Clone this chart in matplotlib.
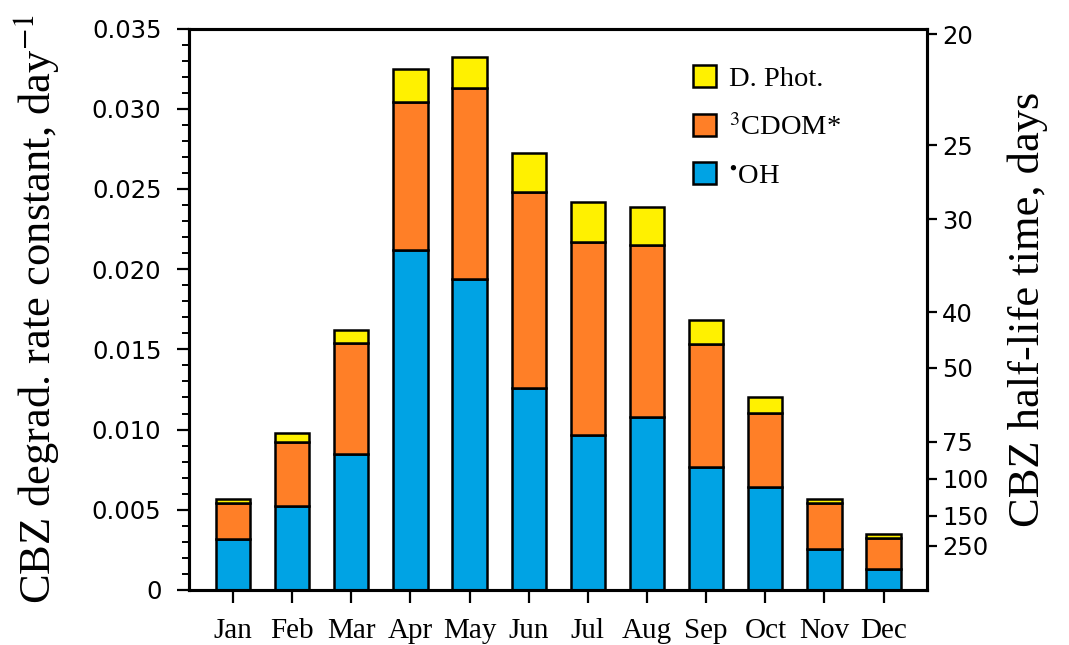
import numpy as np
import matplotlib.pyplot as plt
from matplotlib.patches import Patch
from matplotlib.ticker import MultipleLocator

plt.rcParams['mathtext.fontset'] = 'stix'

meses = ["Jan", "Feb", "Mar", "Apr", "May", "Jun", "Jul", "Aug", "Sep", "Oct", "Nov", "Dec"]

# valores acumulados (day^-1)
k_oh = [0.00316, 0.00522, 0.00847, 0.02119, 0.01938, 0.01258, 0.00965, 0.01081, 0.00769, 0.00643, 0.00258, 0.00133]
k_cdom_top = [0.00541, 0.00921, 0.01537, 0.03043, 0.03132, 0.02483, 0.02169, 0.02148, 0.01535, 0.01102, 0.00541, 0.00326]
k_total = [0.00568, 0.00978, 0.01622, 0.03250, 0.03325, 0.02722, 0.02419, 0.02388, 0.01684, 0.01200, 0.00566, 0.00347]

vida_media = [20, 25, 30, 40, 50, 75, 100, 150, 250]

k_oh = np.array(k_oh)
k_cdom = np.array(k_cdom_top) - k_oh
k_phot = np.array(k_total) - np.array(k_cdom_top)

c_oh = "#00A3E4"
c_cdom = "#FF7F27"
c_phot = "#FFF100"

fig = plt.figure(figsize=(10.69, 6.45), dpi=100)
ax = fig.add_axes([0.177, 0.0853, 0.690, 0.8704])

x = np.arange(1, 13)
w = 0.58
lw = 1.8
ax.bar(x, k_oh, w, color=c_oh, edgecolor="black", linewidth=lw)
ax.bar(x, k_cdom, w, bottom=k_oh, color=c_cdom, edgecolor="black", linewidth=lw)
ax.bar(x, k_phot, w, bottom=k_oh + k_cdom, color=c_phot, edgecolor="black", linewidth=lw)

ax.set_xlim(0.26, 12.73)
ax.set_ylim(0, 0.035)
ax.set_xticks(x)
ax.set_xticklabels(meses, family="Liberation Serif", fontsize=21)
ax.yaxis.set_minor_locator(MultipleLocator(0.001))
ax.set_yticks(np.arange(0, 0.0351, 0.005))
ax.set_yticklabels(["0", "0.005", "0.010", "0.015", "0.020", "0.025", "0.030", "0.035"],
                   family="DejaVu Sans", fontsize=17.5)
ax.tick_params(axis="y", which="major", direction="out", length=9, width=1.6, pad=11)
ax.tick_params(axis="y", which="minor", direction="out", length=5, width=1.4)
ax.tick_params(axis="x", direction="out", length=9, width=1.6, pad=11)
for s in ax.spines.values():
    s.set_linewidth(2.2)

ax.set_ylabel("CBZ degrad. rate constant, day$^{-1}$", family="Liberation Serif", fontsize=32, labelpad=22)

# eje derecho: t1/2 = ln2 / k
ax2 = ax.twinx()
ax2.set_ylim(0, 0.035)
ax2.set_yticks(np.log(2) / np.array(vida_media))
ax2.set_yticklabels([str(t) for t in vida_media], family="DejaVu Sans", fontsize=17.5)
ax2.tick_params(axis="y", direction="out", length=7, width=1.6, pad=4)
for s in ax2.spines.values():
    s.set_linewidth(2.2)
ax2.set_ylabel("CBZ half-life time, days", family="Liberation Serif", fontsize=32, labelpad=14)

handles = [Patch(facecolor=c_phot, edgecolor="black", linewidth=1.8),
           Patch(facecolor=c_cdom, edgecolor="black", linewidth=1.8),
           Patch(facecolor=c_oh, edgecolor="black", linewidth=1.8)]
labels = ["D. Phot.", "$^{3}$CDOM*", "$^{\\bullet}$OH"]
ax2.legend(handles, labels, loc="upper left", bbox_to_anchor=(0.635, 0.921),
           bbox_transform=fig.transFigure, frameon=False, borderpad=0,
           handlelength=0.8, handleheight=0.8, labelspacing=0.76, handletextpad=0.45,
           prop={"family": "Liberation Serif", "size": 20.5})

plt.savefig("out.png", dpi=100)
